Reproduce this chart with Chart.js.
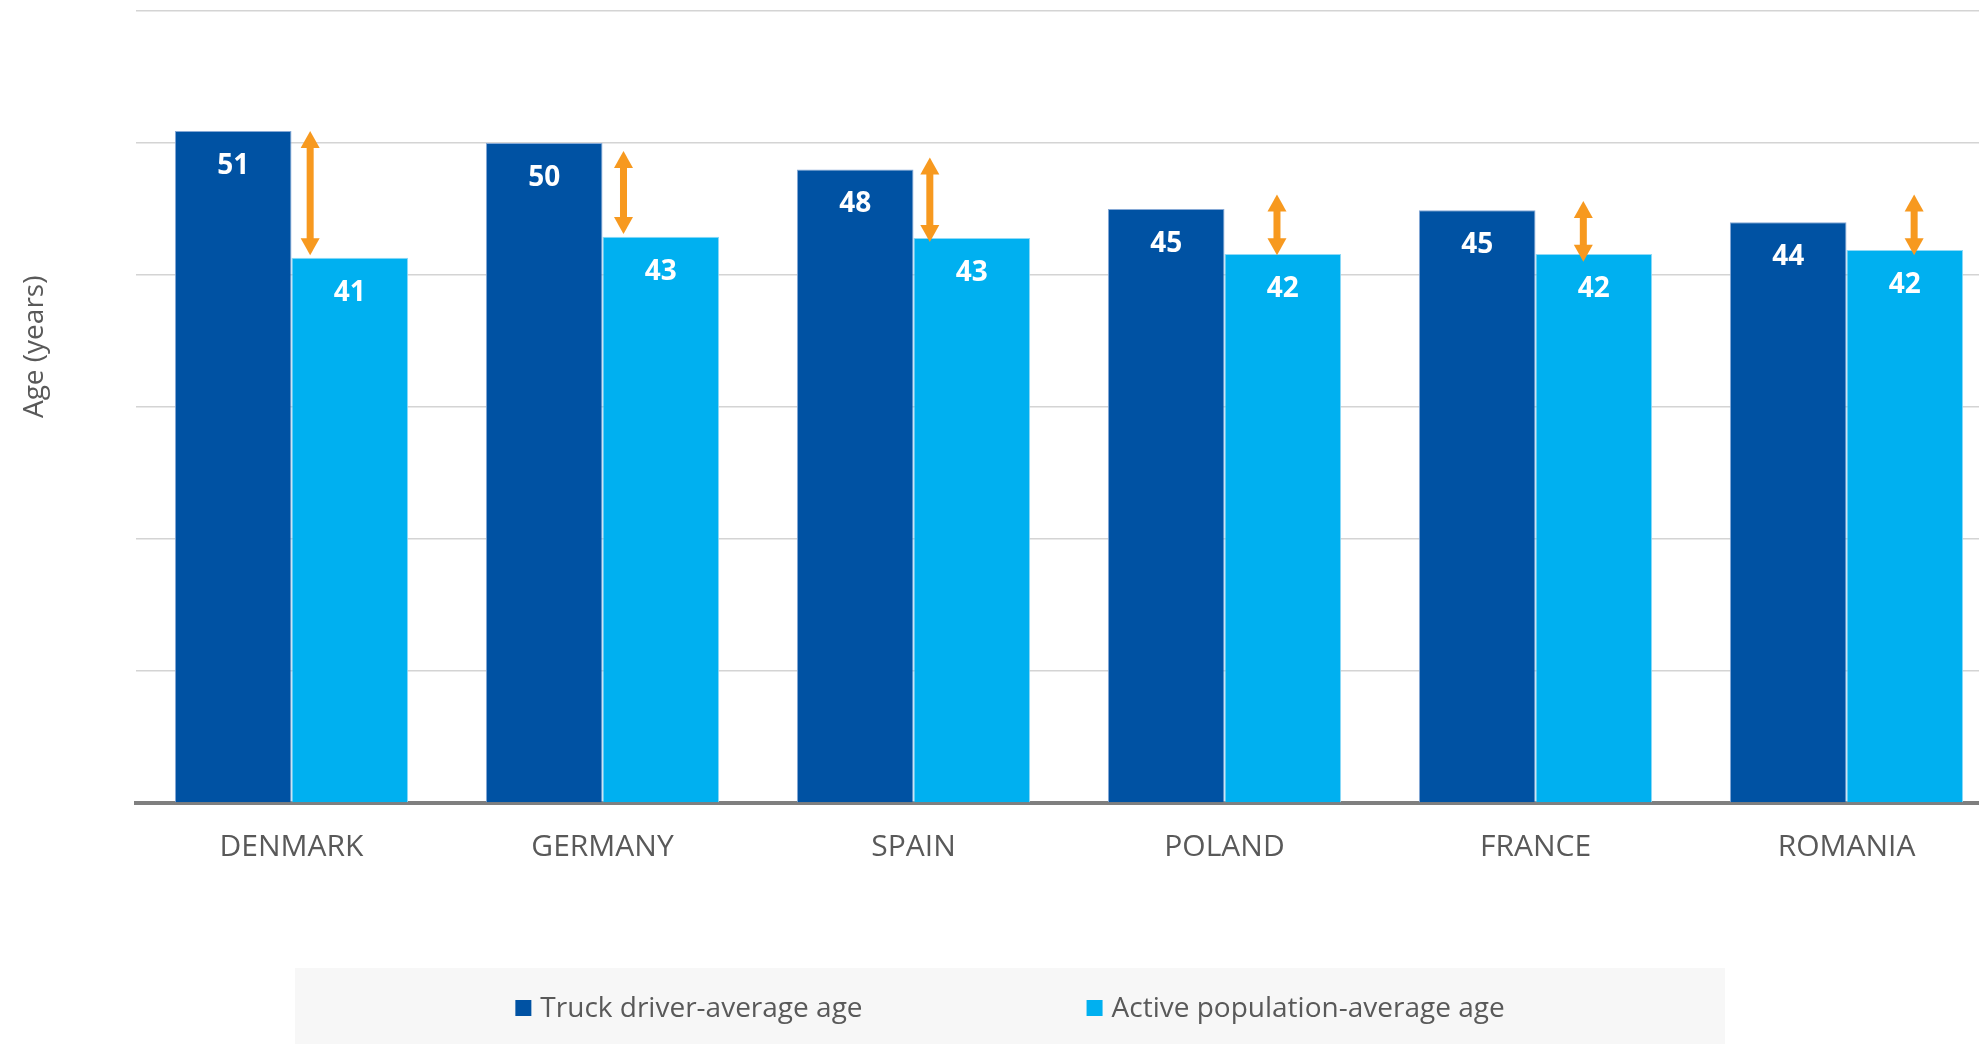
<!DOCTYPE html>
<html>
<head>
<meta charset="utf-8">
<script src="https://cdn.jsdelivr.net/npm/chart.js@4.4.1/dist/chart.umd.min.js"></script>
<style>
    html, body { margin: 0; padding: 0; background: #fff; overflow: hidden; }
    #wrap { position: relative; width: 2020px; height: 1044px; }
</style>
</head>
<body>
<div id="wrap"><canvas id="myChart"></canvas></div>
<script>
// Chart data
const countries = ['DENMARK', 'GERMANY', 'SPAIN', 'POLAND', 'FRANCE', 'ROMANIA'];
const truckDriverAge = [50.9, 50.0, 48.0, 45.0, 44.9, 44.0];
const activePopulationAge = [41.3, 42.9, 42.8, 41.6, 41.6, 41.9];
const seriesNames = ['Truck driver-average age', 'Active population-average age'];
const axisTitle = 'Age (years)';
// Orange gap arrows, in years
const arrowTop = [50.9, 49.4, 48.9, 46.1, 45.6, 46.1];
const arrowBottom = [41.5, 43.1, 42.5, 41.5, 41.0, 41.5];

const textGray = '#595959';
const fontFamily = '"Open Sans", "Noto Sans", sans-serif';

// Value labels inside the bars
const barLabels = {
    id: 'barLabels',
    afterDatasetsDraw(chart) {
        const ctx = chart.ctx;
        ctx.save();
        ctx.fillStyle = '#fff';
        ctx.font = `bold 28px ${fontFamily}`;
        ctx.textAlign = 'center';
        ctx.textBaseline = 'middle';
        chart.data.datasets.forEach((ds, di) => {
            chart.getDatasetMeta(di).data.forEach((bar, i) => {
                ctx.fillText(Math.round(ds.data[i]), bar.x, bar.y + 35);
            });
        });
        ctx.restore();
    }
};

// Double-headed arrows between the two bars
const gapArrows = {
    id: 'gapArrows',
    afterDatasetsDraw(chart, args, opts) {
        const ctx = chart.ctx;
        const y = chart.scales.y;
        const meta = chart.getDatasetMeta(1);
        ctx.save();
        ctx.fillStyle = opts.color;
        meta.data.forEach((bar, i) => {
            const x = bar.x - bar.width / 2 + opts.shift[i] * bar.width;
            const y1 = y.getPixelForValue(arrowTop[i]);
            const y2 = y.getPixelForValue(arrowBottom[i]);
            const hl = 17, hw = 9.5, sw = 3.5;
            ctx.fillRect(x - sw, y1 + hl - 1, sw * 2, (y2 - y1) - hl * 2 + 2);
            ctx.beginPath();
            ctx.moveTo(x, y1); ctx.lineTo(x + hw, y1 + hl); ctx.lineTo(x - hw, y1 + hl); ctx.closePath();
            ctx.fill();
            ctx.beginPath();
            ctx.moveTo(x, y2); ctx.lineTo(x + hw, y2 - hl); ctx.lineTo(x - hw, y2 - hl); ctx.closePath();
            ctx.fill();
        });
        ctx.restore();
    }
};

// Rotated y-axis title
const yTitle = {
    id: 'yTitle',
    afterDraw(chart) {
        const ctx = chart.ctx;
        const a = chart.chartArea;
        ctx.save();
        ctx.translate(35, a.top + (a.bottom - a.top) * 0.424);
        ctx.rotate(-Math.PI / 2);
        ctx.fillStyle = textGray;
        ctx.font = `28px ${fontFamily}`;
        ctx.textAlign = 'center';
        ctx.textBaseline = 'middle';
        ctx.fillText(axisTitle, 0, 0);
        ctx.restore();
    }
};

// Legend on a light grey band at the bottom
const bandLegend = {
    id: 'bandLegend',
    afterDraw(chart) {
        const ctx = chart.ctx;
        const cx = chart.width / 2;
        const top = chart.height - 76;
        const cy = top + 41;
        ctx.save();
        ctx.fillStyle = '#f7f7f7';
        ctx.fillRect(cx - 715, top, 1430, 80);
        ctx.font = `28px ${fontFamily}`;
        ctx.textBaseline = 'middle';
        const box = 16, gapBox = 9, gapItem = 224;
        const widths = chart.data.datasets.map(ds => ctx.measureText(ds.label).width);
        let total = widths.reduce((s, w) => s + w + box + gapBox, 0) + gapItem * (widths.length - 1);
        let x = cx - total / 2;
        chart.data.datasets.forEach((ds, i) => {
            ctx.fillStyle = ds.backgroundColor;
            ctx.fillRect(x, cy - box / 2 - 1, box, box);
            ctx.fillStyle = textGray;
            ctx.fillText(ds.label, x + box + gapBox, cy);
            x += box + gapBox + widths[i] + gapItem;
        });
        ctx.restore();
    }
};

const data = {
    labels: countries,
    datasets: [
        {
            label: seriesNames[0],
            data: truckDriverAge,
            backgroundColor: '#0052A3',
            borderColor: '#86a9d6',
            borderWidth: 1
        },
        {
            label: seriesNames[1],
            data: activePopulationAge,
            backgroundColor: '#00B0F0',
            borderColor: '#8fdaf7',
            borderWidth: 1
        }
    ]
};

const config = {
    type: 'bar',
    data: data,
    options: {
        responsive: true,
        maintainAspectRatio: false,
        animation: false,
        layout: {
            padding: { top: 11, left: 136, right: 18, bottom: 0 }
        },
        datasets: {
            bar: { categoryPercentage: 0.75, barPercentage: 1.0 }
        },
        plugins: {
            legend: { display: false },
            tooltip: { enabled: false },
            gapArrows: {
                color: '#F7991F',
                shift: [0.16, 0.18, 0.14, 0.45, 0.41, 0.58]
            }
        },
        scales: {
            x: {
                grid: { display: false, drawTicks: false },
                border: { display: true, color: '#7f7f7f', width: 4 },
                ticks: {
                    color: textGray,
                    font: { family: fontFamily, size: 30 },
                    padding: 26
                },
                afterFit: (scale) => { scale.height = 241; }
            },
            y: {
                min: 0,
                max: 60,
                ticks: { display: false, stepSize: 10 },
                grid: { color: '#d4d4d4', lineWidth: 1.5, drawTicks: false },
                border: { display: false },
                afterFit: (scale) => { scale.width = 0; }
            }
        }
    },
    plugins: [barLabels, gapArrows, yTitle, bandLegend]
};

const ctx = document.getElementById('myChart').getContext('2d');
const currentChart = new Chart(ctx, config);
</script>
</body>
</html>
